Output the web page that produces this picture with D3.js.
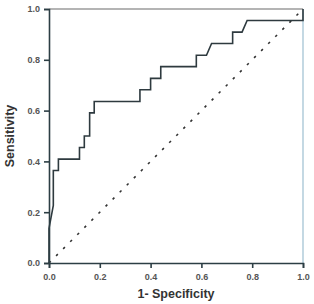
<!DOCTYPE html>
<html>
<head>
<meta charset="utf-8">
<script src="https://cdn.jsdelivr.net/npm/d3@7"></script>
<style>
  body { margin: 0; background: #fff; }
  .tick text { font-family: "Liberation Sans Narrow", "Arial Narrow", "Liberation Sans", sans-serif; font-weight: bold; font-size: 9px; fill: #555; }
  .title { font-family: "Liberation Sans Narrow", "Arial Narrow", "Liberation Sans", sans-serif; font-weight: bold; font-size: 12.5px; fill: #333; }
</style>
</head>
<body>
<svg id="svg"></svg>
<script>
/* ROC curve: 1 - specificity vs sensitivity */

// step points
let fpr  = [0, 0, 0.017, 0.017, 0.037, 0.037, 0.12, 0.12, 0.139, 0.139, 0.16, 0.16, 0.178, 0.178,
            0.358, 0.358, 0.40, 0.40, 0.44, 0.44, 0.58, 0.58, 0.62, 0.64, 0.723, 0.723, 0.76, 0.78, 1.0, 1.0];
let sens = [0, 0.136, 0.227, 0.364, 0.364, 0.409, 0.409, 0.455, 0.455, 0.5, 0.5, 0.591, 0.591, 0.636,
            0.636, 0.682, 0.682, 0.727, 0.727, 0.773, 0.773, 0.818, 0.818, 0.864, 0.864, 0.909, 0.909, 0.955, 0.955, 1.0];
let tickVals = [0, 0.2, 0.4, 0.6, 0.8, 1.0];

function createChart() {
  let w = 314, h = 304;
  let left = 49, right = 303, top = 9, bottom = 263;

  let svg = d3.select("#svg")
              .attr('width', w)
              .attr('height', h);

  let x = d3.scaleLinear().domain([0, 1]).range([left, right]);
  let y = d3.scaleLinear().domain([0, 1]).range([bottom, top]);

  // frame: top grey, right light blue
  svg.append('line')
     .attr('x1', x(0)).attr('x2', x(1))
     .attr('y1', y(1)).attr('y2', y(1))
     .attr('stroke', '#6b6b6b').attr('stroke-width', 1.2);
  svg.append('line')
     .attr('x1', x(1)).attr('x2', x(1))
     .attr('y1', y(1)).attr('y2', y(0))
     .attr('stroke', '#9dbfd0').attr('stroke-width', 1.2);

  // reference diagonal
  svg.append('line')
     .attr('x1', x(0)).attr('y1', y(0))
     .attr('x2', x(1)).attr('y2', y(1))
     .attr('stroke', '#333').attr('stroke-width', 1.6)
     .attr('stroke-dasharray', '2.5,7.5');

  // ROC curve
  let pts = fpr.map((v, i) => [v, sens[i]]);
  svg.append('path')
     .datum(pts)
     .attr('fill', 'none')
     .attr('stroke', '#2e3a3f')
     .attr('stroke-width', 1.6)
     .attr('d', d3.line().x(d => x(d[0])).y(d => y(d[1])));

  // axes
  let fmt = d3.format('.1f');
  let xAxis = svg.append('g')
     .attr('transform', `translate(0,${bottom})`)
     .call(d3.axisBottom(x).tickValues(tickVals).tickFormat(fmt).tickSize(5).tickPadding(6));
  let yAxis = svg.append('g')
     .attr('transform', `translate(${left},0)`)
     .call(d3.axisLeft(y).tickValues(tickVals).tickFormat(fmt).tickSize(5).tickPadding(4));

  [xAxis, yAxis].forEach(g => {
    g.select('.domain').attr('stroke', '#2c3e44').attr('stroke-width', 1.6);
    g.selectAll('.tick line').attr('stroke', '#2c3e44').attr('stroke-width', 1.6);
  });

  // titles
  svg.append('text')
     .attr('class', 'title')
     .attr('x', (left + right) / 2)
     .attr('y', 298)
     .attr('text-anchor', 'middle')
     .text('1- Specificity');

  svg.append('text')
     .attr('class', 'title')
     .attr('transform', `translate(14,${(top + bottom) / 2}) rotate(-90)`)
     .attr('text-anchor', 'middle')
     .text('Sensitivity');
}

window.onload = function() {
  createChart();
};
</script>
</body>
</html>
